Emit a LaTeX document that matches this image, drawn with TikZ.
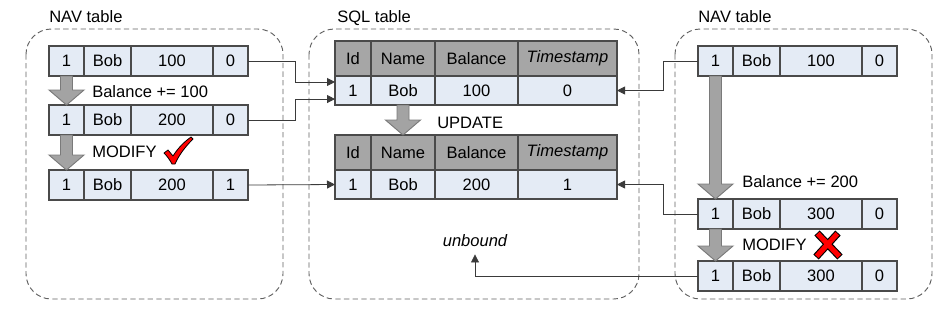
\documentclass[tikz,border=0pt]{standalone}
\usepackage{fontspec}
\setmainfont{Liberation Sans}
\usetikzlibrary{arrows.meta,calc}

\definecolor{cellfill}{HTML}{E4EBF5}
\definecolor{headfill}{HTML}{A6A6A6}
\definecolor{cellline}{HTML}{4A4A4A}
\definecolor{arrowfill}{HTML}{A3A3A3}
\definecolor{arrowline}{HTML}{7A7A7A}
\definecolor{panelline}{HTML}{606060}
\definecolor{connline}{HTML}{3A3A3A}

\tikzset{
  cell/.style={draw=cellline, fill=cellfill, line width=0.8pt, inner sep=0pt,
    outer sep=0pt, minimum height=22.5pt, anchor=north west},
  headcell/.style={cell, fill=headfill, minimum height=26.25pt},
  sqlcell/.style={cell, minimum height=21.75pt},
  panel/.style={draw=panelline, line width=0.7pt, dash pattern=on 4pt off 2.5pt,
    rounded corners=19pt},
  label/.style={inner sep=0pt, anchor=base west},
  conn/.style={draw=connline, line width=0.6pt, -{Triangle[length=6pt,width=6pt]}},
  bigarrow/.style={fill=arrowfill, draw=arrowline, line width=0.7pt},
}

% one record of a NAV table: Id, Name, Balance, Timestamp
\newcommand\navrow[7]{%
  \node[cell, minimum width=26.25pt] (#1a) at (#2,#3) {#4};
  \node[cell, minimum width=35.25pt] (#1b) at (#1a.north east) {#5};
  \node[cell, minimum width=61.5pt]  (#1c) at (#1b.north east) {#6};
  \node[cell, minimum width=26.25pt] (#1d) at (#1c.north east) {#7};
}

% SQL table with header line and one record
\newcommand\sqltable[7]{%
  \node[headcell, minimum width=27pt]    (#1ha) at (#2,#3) {Id};
  \node[headcell, minimum width=48pt]    (#1hb) at (#1ha.north east) {Name};
  \node[headcell, minimum width=62.25pt] (#1hc) at (#1hb.north east) {Balance};
  \node[headcell, minimum width=74.25pt] (#1hd) at (#1hc.north east) {\itshape Timestamp};
  \node[sqlcell, minimum width=27pt]    (#1a) at (#1ha.south west) {#4};
  \node[sqlcell, minimum width=48pt]    (#1b) at (#1a.north east) {#5};
  \node[sqlcell, minimum width=62.25pt] (#1c) at (#1b.north east) {#6};
  \node[sqlcell, minimum width=74.25pt] (#1d) at (#1c.north east) {#7};
}

% wide grey arrow from #1 down to the tip #2
\newcommand\blockarrow[2]{%
  \filldraw[bigarrow] ($(#1)+(-6,0)$) -- ($(#2)+(-6,-15)$) -- ($(#2)+(-17.5,-15)$)
    -- (#2) -- ($(#2)+(17.5,-15)$) -- ($(#2)+(6,-15)$) -- ($(#1)+(6,0)$) -- cycle;
}

\begin{document}
\begin{tikzpicture}[x=0.75pt, y=-0.75pt, every node/.style={font=\fontsize{12.4}{14}\selectfont}]
\useasboundingbox (0,0) rectangle (952,330);

% panels
\draw[panel] (26,29) rectangle (283,299);
\draw[panel] (309,29) rectangle (639,299);
\draw[panel] (675,29) rectangle (932,299);

\node[label] (navl) at (49,22) {NAV table};
\node[label] (sqlt) at (337,22) {SQL table};
\node[label] (navr) at (698,22) {NAV table};

% left NAV table
\navrow{l1}{49}{46}{1}{Bob}{100}{0}
\navrow{l2}{49}{105}{1}{Bob}{200}{0}
\navrow{l3}{49}{170}{1}{Bob}{200}{1}
\blockarrow{l1a.south}{l2a.north}
\blockarrow{l2a.south}{l3a.north}
\node[label] (addl) at (92,97) {Balance += 100};
\node[label] (modl) at (92,157) {MODIFY};

% SQL table
\sqltable{s1}{335}{41}{1}{Bob}{100}{0}
\sqltable{s2}{335}{135}{1}{Bob}{200}{1}
\blockarrow{s1b.south}{s2hb.north}
\node[label] (upd) at (437,128) {UPDATE};
\node[inner sep=0pt, anchor=base, font=\fontsize{12.4}{14}\selectfont\itshape] (unb) at (475,246) {unbound};

% right NAV table
\navrow{r1}{698}{46}{1}{Bob}{100}{0}
\navrow{r2}{698}{199}{1}{Bob}{300}{0}
\navrow{r3}{698}{261}{1}{Bob}{300}{0}
\blockarrow{r1a.south}{r2a.north}
\blockarrow{r2a.south}{r3a.north}
\node[label] (addr) at (742,187) {Balance += 200};
\node[label] (modr) at (742,250) {MODIFY};

% connectors
\draw[conn] (l1d.east) -- ++(47,0) |- ([yshift=6.4pt]s1a.west);
\draw[conn] (l2d.east) -- ++(47,0) |- ([yshift=-6.4pt]s1a.west);
\draw[conn] (l3d.east) -- (s2a.west);
\draw[conn] (r1a.west) -- ++(-35,0) |- (s1d.east);
\draw[conn] (r2a.west) -- ++(-35,0) |- (s2d.east);
\draw[conn] (r3a.west) -| ([yshift=-6pt]unb.south);

% check mark
\filldraw[fill=red, draw=black, line width=0.6pt, line join=round]
  (164,153) -- (168,150) -- (173,156) .. controls (178,148) and (184,142) .. (191,137)
  -- (193,139) .. controls (185,147) and (179,155) .. (175,164) -- (172,164)
  .. controls (170,160) and (167,156) .. (164,153) -- cycle;

% cross
\draw[black, line width=5.5pt] (817,233) -- (840,257) (838,233) -- (816,257);
\draw[red, line width=3.8pt] (817.7,233.7) -- (839.3,256.3) (837.3,233.7) -- (816.7,256.3);
\end{tikzpicture}
\end{document}
